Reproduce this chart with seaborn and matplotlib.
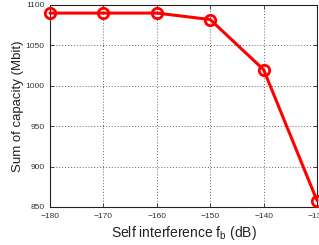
import numpy as np
import pandas as pd
import matplotlib
matplotlib.use('Agg')
import matplotlib.pyplot as plt
import seaborn as sns

# data
self_interference = [-180, -170, -160, -150, -140, -130]
sum_capacity = [1090, 1090, 1090, 1082, 1020, 858]

Data = pd.DataFrame({'fb': self_interference, 'capacity': sum_capacity})

sns.set_style('ticks')
plt.rcParams['font.family'] = ['Liberation Sans', 'DejaVu Sans']
plt.rcParams['mathtext.default'] = 'regular'

fig = plt.figure(figsize=(3.19, 2.45), dpi=100)
ax = fig.add_axes([50 / 319, 38 / 245, 267 / 319, 202 / 245])

sns.lineplot(data=Data, x='fb', y='capacity', ax=ax, color='#ff0000', linewidth=2.2,
             marker='o', markersize=7.5, markerfacecolor='none',
             markeredgecolor='#ff0000', markeredgewidth=2, clip_on=False, zorder=5)

ax.set_xlim(-180, -130)
ax.set_ylim(850, 1100)
ax.set_xticks(self_interference)
ax.set_yticks(np.arange(850, 1101, 50))
ax.tick_params(labelsize=6, labelcolor='#333333', direction='in', length=3, width=0.6,
               top=True, right=True, pad=4)
ax.grid(True, linestyle=(0, (1, 2)), color='#666666', linewidth=0.7)
for s in ax.spines.values():
    s.set_linewidth(0.8)
    s.set_color('#222222')

ax.set_xlabel('Self interference f$_b$ (dB)', fontsize=10, labelpad=3, color='#222222')
ax.set_ylabel('Sum of capacity (Mbit)', fontsize=9.5, labelpad=1, color='#222222')

fig.savefig('out.png', dpi=100)
